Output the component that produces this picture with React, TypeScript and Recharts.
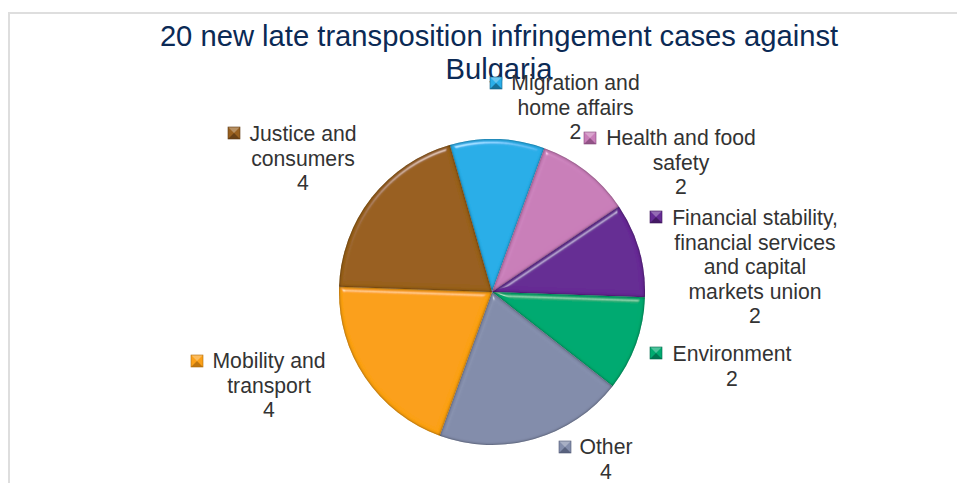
import { PieChart, Pie, Cell, Sector } from 'recharts';

const categories = [
  'Migration and home affairs',
  'Health and food safety',
  'Financial stability, financial services and capital markets union',
  'Environment',
  'Other',
  'Mobility and transport',
  'Justice and consumers',
];
const caseCounts = [2, 2, 2, 2, 4, 4, 4];
const sliceColors = ['#2aaee8', '#c97eb9', '#662c94', '#00aa70', '#838dab', '#fba018', '#98601f'];
const edgeColors = ['#125f82', '#84497a', '#3c1658', '#00684a', '#4f5873', '#b06c0c', '#5e3a14'];
const titleLines = ['20 new late transposition infringement cases against', 'Bulgaria'];

const data = categories.map((name, i) => ({ name, value: caseCounts[i] }));

// label layout, one entry per slice: text centre x, first baseline y, wrapped lines, key position
const labelLayout = [
  { x: 575.5, y: 90, lines: ['Migration and', 'home affairs', '2'], keyX: 490, keyY: 77 },
  { x: 681, y: 145, lines: ['Health and food', 'safety', '2'], keyX: 584, keyY: 132 },
  { x: 755, y: 225, lines: ['Financial stability,', 'financial services', 'and capital', 'markets union', '2'], keyX: 650, keyY: 211 },
  { x: 732, y: 361, lines: ['Environment', '2'], keyX: 650, keyY: 347 },
  { x: 606, y: 454, lines: ['Other', '4'], keyX: 559, keyY: 441 },
  { x: 269, y: 368, lines: ['Mobility and', 'transport', '4'], keyX: 191, keyY: 355 },
  { x: 303, y: 141, lines: ['Justice and', 'consumers', '4'], keyX: 228, keyY: 127 },
];

// faint scan artefacts crossing the pie in the source image
const artefactPaths = ['M491 203V145H500V140', 'M613 385V296H620', 'M500 445V386H612', 'M492 386V435'];

const SliceLabel = ({ index }: any) => {
  const l = labelLayout[index];
  const s = 12;
  return (
    <g>
      <rect x={l.keyX} y={l.keyY} width={s} height={s} fill={sliceColors[index]} />
      <path d={`M${l.keyX} ${l.keyY + s}l${s / 2} ${-s / 2}l${s / 2} ${s / 2}z`} fill={edgeColors[index]} opacity={0.8} />
      <path d={`M${l.keyX} ${l.keyY}l${s / 2} ${s / 2}l${s / 2} ${-s / 2}z`} fill="#ffffff" opacity={0.3} />
      <rect x={l.keyX} y={l.keyY} width={s} height={s} fill="none" stroke={edgeColors[index]} strokeWidth={0.6} />
      <text textAnchor="middle" fontFamily="Liberation Sans, Arial, sans-serif" fontSize={21.2} fill="#333333">
        {l.lines.map((t, i) => (
          <tspan key={i} x={l.x} y={l.y + i * 24.5}>{t}</tspan>
        ))}
      </text>
    </g>
  );
};

// bevelled slice, the filter adds the highlight and the dark rim
const BevelSlice = (props: any) => {
  const { index } = props;
  return (
    <g filter="url(#bevel)">
      <Sector {...props} fill={sliceColors[index]} stroke="none" />
    </g>
  );
};

export default function App() {
  return (
    <div style={{ position: 'absolute', left: 0, top: 0, width: 957, height: 483, background: '#fff', overflow: 'hidden' }}>
      <div style={{ position: 'absolute', left: 8, top: 12, width: 960, height: 480, borderLeft: '2px solid #dedede', borderTop: '2px solid #dedede', boxSizing: 'border-box' }} />
      <PieChart width={957} height={483} margin={{ top: 0, right: 0, bottom: 0, left: 0 }} style={{ position: 'absolute', left: 0, top: 0 }}>
        <defs>
          <filter id="bevel" x="-10%" y="-10%" width="120%" height="120%">
            <feGaussianBlur in="SourceAlpha" stdDeviation="2.5" result="blur" />
            <feSpecularLighting in="blur" surfaceScale="4" specularConstant="0.8" specularExponent="45" lightingColor="#ffffff" result="spec">
              <feDistantLight azimuth="250" elevation="35" />
            </feSpecularLighting>
            <feComposite in="spec" in2="SourceAlpha" operator="in" result="specIn" />
            <feComposite in="SourceGraphic" in2="specIn" operator="arithmetic" k1="0" k2="1" k3="0.5" k4="0" result="lit" />
            <feGaussianBlur in="SourceAlpha" stdDeviation="1.8" result="rimBlur" />
            <feComponentTransfer in="rimBlur" result="rimInv">
              <feFuncA type="table" tableValues="1 0.75 0" />
            </feComponentTransfer>
            <feFlood floodColor="#000000" floodOpacity="0.7" result="dark" />
            <feComposite in="dark" in2="rimInv" operator="in" result="darkRim" />
            <feComposite in="darkRim" in2="SourceAlpha" operator="in" result="rim" />
            <feMerge>
              <feMergeNode in="lit" />
              <feMergeNode in="rim" />
            </feMerge>
          </filter>
        </defs>
        <Pie
          data={data}
          dataKey="value"
          cx={492}
          cy={292}
          outerRadius={153}
          startAngle={106}
          endAngle={-254}
          paddingAngle={0}
          stroke="none"
          isAnimationActive={false}
          shape={BevelSlice}
          label={SliceLabel}
          labelLine={false}
        >
          {data.map((d, i) => (
            <Cell key={d.name} fill={sliceColors[i]} />
          ))}
        </Pie>
        <g fill="none" stroke="#ffffff" strokeOpacity={0.5} strokeWidth={1}>
          {artefactPaths.map((d) => (
            <path key={d} d={d} />
          ))}
        </g>
        <text textAnchor="middle" fontFamily="Liberation Sans, Arial, sans-serif" fontSize={29.2} fill="#0b2a55">
          <tspan x={499} y={46}>{titleLines[0]}</tspan>
          <tspan x={499} y={79}>{titleLines[1]}</tspan>
        </text>
      </PieChart>
    </div>
  );
}
